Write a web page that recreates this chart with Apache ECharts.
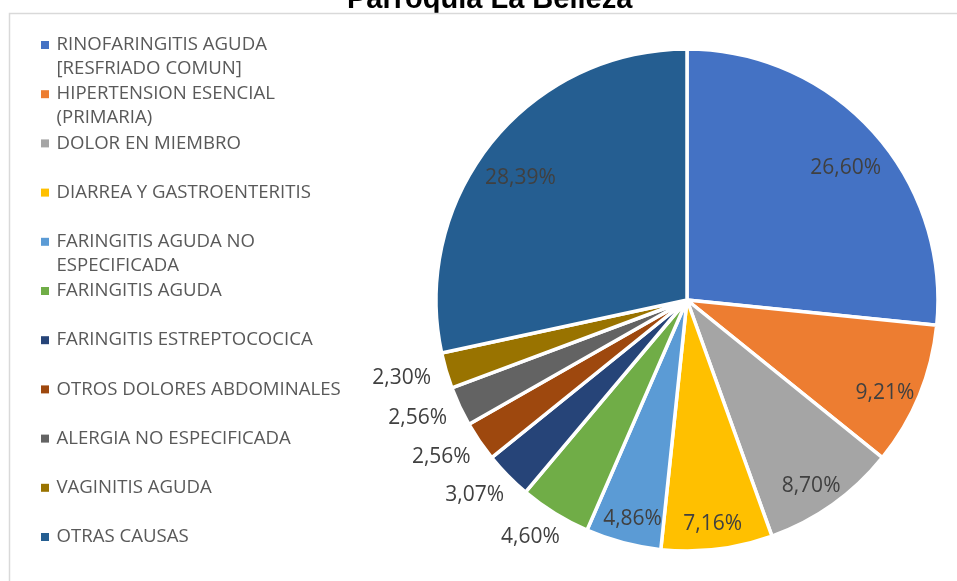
<!DOCTYPE html>
<html>
<head>
<meta charset="utf-8">
<title>Parroquia La Belleza</title>
<script src="https://cdn.jsdelivr.net/npm/echarts@6/dist/echarts.min.js"></script>
<style>
  html, body { margin: 0; padding: 0; background: #ffffff; }
  #chart { width: 957px; height: 581px; }
</style>
</head>
<body>
<div id="chart"></div>
<script>
// Consultation causes and their share of the total (%)
const categories = [
  'RINOFARINGITIS AGUDA\n[RESFRIADO COMUN]',
  'HIPERTENSION ESENCIAL\n(PRIMARIA)',
  'DOLOR EN MIEMBRO',
  'DIARREA Y GASTROENTERITIS',
  'FARINGITIS AGUDA NO\nESPECIFICADA',
  'FARINGITIS AGUDA',
  'FARINGITIS ESTREPTOCOCICA',
  'OTROS DOLORES ABDOMINALES',
  'ALERGIA NO ESPECIFICADA',
  'VAGINITIS AGUDA',
  'OTRAS CAUSAS'
];
const percentages = [26.60, 9.21, 8.70, 7.16, 4.86, 4.60, 3.07, 2.56, 2.56, 2.30, 28.39];
const sliceColors = [
  '#4472C4', '#ED7D31', '#A5A5A5', '#FFC000', '#5B9BD5', '#70AD47',
  '#264478', '#9E480E', '#636363', '#997300', '#255E91'
];
const titleText = 'Parroquia La Belleza';

// Pie geometry
const CENTER = [687, 300];
const RADIUS = 251;
const LABEL_RING_INNER = 171;   // inside labels sit in the middle of [171, 251]
const INSIDE_LABEL_DROP = 12;   // small downward nudge of the inside labels
const OUTER_GAP = 17;           // distance of outside labels from the rim
const INSIDE_MIN = 4.8;         // slices at least this big carry their label inside

const LABEL_FONT = { fontFamily: 'Open Sans', fontSize: 21, color: '#404040' };

function formatPercent(v) {
  return v.toFixed(2).replace('.', ',') + '%';
}

// Push each outside label away from the rim along its slice bisector,
// so the box touches the rim point instead of hanging from it.
function placeOuterLabel(params) {
  const r = params.labelRect;
  if (!r || !r.width) return {};
  const ax = params.align === 'right' ? r.x + r.width : (params.align === 'left' ? r.x : r.x + r.width / 2);
  const ay = r.y + r.height / 2;
  let dx = ax - CENTER[0];
  let dy = ay - CENTER[1];
  const len = Math.sqrt(dx * dx + dy * dy) || 1;
  dx /= len; dy /= len;
  return {
    x: ax + dx * r.width / 2,
    y: ay + dy * r.height / 2,
    align: 'center',
    verticalAlign: 'middle'
  };
}

const mainData = categories.map((name, i) => ({
  name: name,
  value: percentages[i],
  label: { show: percentages[i] < INSIDE_MIN }
}));
const insideLabelData = categories.map((name, i) => ({
  name: name,
  value: percentages[i],
  label: { show: percentages[i] >= INSIDE_MIN }
}));

const chart = echarts.init(document.getElementById('chart'), null, { renderer: 'canvas' });

chart.setOption({
  animation: false,
  color: sliceColors,
  title: {
    text: titleText,
    left: 347,
    top: -15,
    padding: 0,
    textStyle: { fontFamily: 'Liberation Sans', fontWeight: 'bold', fontSize: 29, color: '#000000' }
  },
  graphic: [{
    type: 'rect',
    silent: true,
    z: 100,
    shape: { x: 9.5, y: 13.5, width: 1000, height: 700 },
    style: { fill: 'none', stroke: '#d9d9d9', lineWidth: 1.5 }
  }],
  legend: {
    orient: 'vertical',
    left: 41,
    top: 33,
    padding: 0,
    itemGap: 1.2,
    itemWidth: 13,
    itemHeight: 32,
    // square marker kept at the top of a tall box so it lines up with the first text line
    icon: 'path://M0,0H8V8H0Z M0,32',
    itemStyle: { borderWidth: 0 },
    formatter: name => (name.indexOf('\n') >= 0 ? name : name + '\n '),
    textStyle: { fontFamily: 'Open Sans', fontSize: 18.6, color: '#595959', lineHeight: 24 },
    data: categories
  },
  series: [
    {
      type: 'pie',
      center: CENTER,
      radius: RADIUS,
      startAngle: 90,
      clockwise: true,
      avoidLabelOverlap: false,
      itemStyle: { borderColor: '#ffffff', borderWidth: 3.5 },
      label: Object.assign({
        position: 'outside',
        distanceToLabelLine: 0,
        formatter: p => formatPercent(p.value)
      }, LABEL_FONT),
      labelLine: { show: false, length: OUTER_GAP, length2: 0 },
      labelLayout: placeOuterLabel,
      emphasis: { disabled: true },
      data: mainData
    },
    {
      // label ring for the larger slices
      type: 'pie',
      center: CENTER,
      radius: [LABEL_RING_INNER, RADIUS],
      startAngle: 90,
      clockwise: true,
      silent: true,
      avoidLabelOverlap: false,
      itemStyle: { color: 'rgba(0,0,0,0)', borderWidth: 0 },
      label: Object.assign({
        position: 'inside',
        formatter: p => formatPercent(p.value)
      }, LABEL_FONT),
      labelLine: { show: false },
      labelLayout: { dy: INSIDE_LABEL_DROP },
      emphasis: { disabled: true },
      tooltip: { show: false },
      data: insideLabelData
    }
  ]
});
</script>
</body>
</html>
